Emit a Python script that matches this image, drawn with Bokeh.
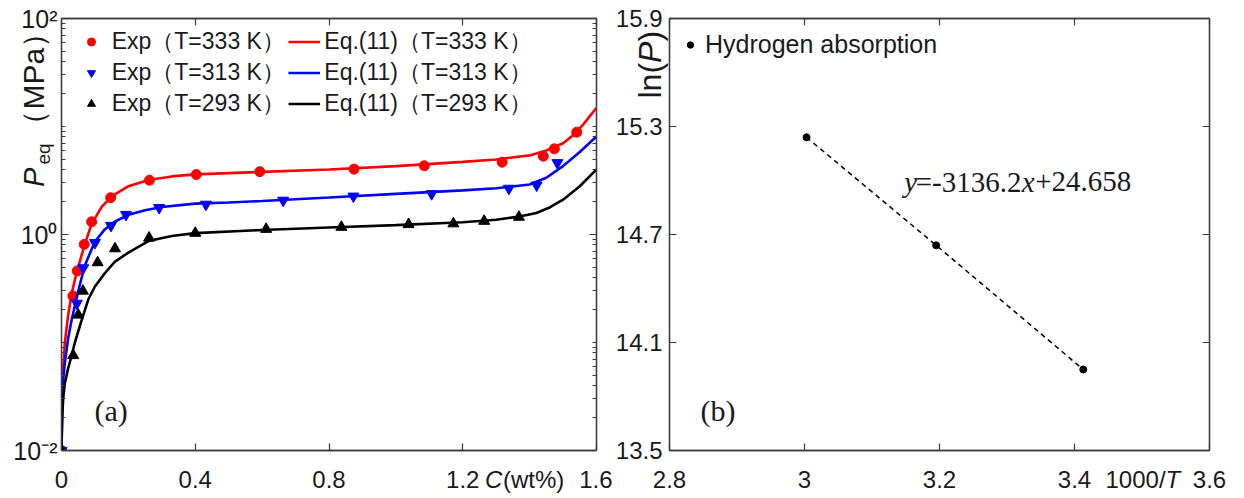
import math
from bokeh.plotting import figure
from bokeh.models import Range1d, LinearAxis, LogAxis, FixedTicker, Legend, LegendItem, Label
from bokeh.layouts import row
from bokeh.embed import file_html
from bokeh.resources import INLINE
from bokeh.core.properties import value

# ---------------- data: panel (a) ----------------
exp333_c = [0.000, 0.034, 0.047, 0.068, 0.090, 0.147, 0.263, 0.403, 0.593, 0.875, 1.085, 1.318, 1.441, 1.474, 1.541]
exp333_p = [0.010, 0.27, 0.46, 0.81, 1.31, 2.19, 3.18, 3.59, 3.82, 4.03, 4.33, 4.67, 5.31, 6.21, 8.85]

exp313_c = [0.000, 0.046, 0.065, 0.100, 0.148, 0.193, 0.292, 0.432, 0.663, 0.873, 1.107, 1.338, 1.421, 1.483]
exp313_p = [0.010, 0.23, 0.49, 0.84, 1.21, 1.53, 1.77, 1.90, 2.07, 2.26, 2.38, 2.67, 2.86, 4.61]

exp293_c = [0.000, 0.035, 0.050, 0.064, 0.108, 0.160, 0.262, 0.400, 0.612, 0.837, 1.038, 1.172, 1.264, 1.368]
exp293_p = [0.010, 0.076, 0.18, 0.30, 0.55, 0.74, 0.93, 1.03, 1.12, 1.17, 1.24, 1.26, 1.33, 1.45]

fit333_c = [0, 0.002, 0.005, 0.01, 0.02, 0.03, 0.04, 0.05, 0.07, 0.09, 0.12, 0.15, 0.2, 0.26, 0.33,
            0.4, 0.5, 0.6, 0.8, 1.0, 1.2, 1.3, 1.4, 1.45, 1.5, 1.53, 1.56, 1.6]
fit333_p = [0.01, 0.03, 0.06, 0.10, 0.18, 0.28, 0.38, 0.50, 0.82, 1.25, 1.8, 2.25, 2.8, 3.2, 3.45,
            3.6, 3.7, 3.8, 4.0, 4.3, 4.7, 4.95, 5.4, 6.0, 7.0, 8.3, 10.4, 14.9]

fit313_c = [0, 0.002, 0.005, 0.01, 0.02, 0.03, 0.04, 0.05, 0.07, 0.1, 0.13, 0.16, 0.2, 0.25, 0.3,
            0.4, 0.5, 0.6, 0.8, 1.0, 1.2, 1.3, 1.4, 1.45, 1.5, 1.55, 1.6]
fit313_p = [0.01, 0.025, 0.045, 0.065, 0.11, 0.16, 0.22, 0.30, 0.52, 0.86, 1.12, 1.32, 1.52, 1.68, 1.8,
            1.93, 1.98, 2.04, 2.2, 2.38, 2.56, 2.68, 2.9, 3.35, 4.3, 5.8, 8.1]

fit293_c = [0, 0.002, 0.005, 0.01, 0.02, 0.03, 0.04, 0.06, 0.08, 0.1, 0.13, 0.16, 0.2, 0.26, 0.33,
            0.4, 0.6, 0.8, 1.0, 1.2, 1.3, 1.37, 1.42, 1.46, 1.5, 1.55, 1.6]
fit293_p = [0.01, 0.02, 0.03, 0.042, 0.058, 0.075, 0.1, 0.16, 0.25, 0.33, 0.44, 0.56, 0.68, 0.87, 0.97,
            1.03, 1.1, 1.16, 1.22, 1.3, 1.37, 1.47, 1.58, 1.78, 2.1, 2.8, 4.0]

c_ticks = [0, 0.4, 0.8, 1.2, 1.6]
c_tick_labels = ["0", "0.4", "0.8", "1.2", "1.6"]
p_ticks = [0.01, 1, 100]
p_tick_labels = ["10\u207b\u00b2", "10\u2070", "10\u00b2"]
p_minor = [k * 10.0 ** d for d in (-2, -1, 0, 1) for k in range(2, 10)] + [0.1, 10]

legend_exp = ["Exp\uff08T=333 K\uff09", "Exp\uff08T=313 K\uff09", "Exp\uff08T=293 K\uff09"]
legend_fit = ["Eq.(11)\uff08T=333 K\uff09", "Eq.(11)\uff08T=313 K\uff09", "Eq.(11)\uff08T=293 K\uff09"]

# ---------------- data: panel (b) ----------------
inv_T = [3.003, 3.195, 3.413]
ln_P = [15.24, 14.64, 13.95]
t_ticks = [2.8, 3.0, 3.2, 3.4, 3.6]
t_tick_labels = ["2.8", "3", "3.2", "3.4", "3.6"]
l_ticks = [13.5, 14.1, 14.7, 15.3, 15.9]
l_tick_labels = ["13.5", "14.1", "14.7", "15.3", "15.9"]

# ---------------- layout / style ----------------
FW1, FW2, FH = 535, 540, 432
BL1, BR1, BL2, BR2, BT, BB = 61, 16, 54, 29, 18, 46
X0A, X0B, Y0 = 1 + BL1, 1 + BL1 + FW1 + BR1 + BL2, 1 + BT   # page position of the frames

AX = "#3c3c3c"
TXT = "#1a1a1a"
SANS = "Liberation Sans"
SERIF = "Liberation Serif"
RED, BLUE, BLACK = "#ff0000", "#0000ff", "#000000"


# page pixel -> data helpers (used only to place annotation texts)
def a_x(px):
    return (px - X0A) / FW1 * 1.6


def a_y(py):
    return 10 ** (2 - (py - Y0) / FH * 4)


def b_x(px):
    return 2.8 + (px - X0B) / FW2 * 0.8


def b_y(py):
    return 15.9 - (py - Y0) / FH * 2.4


def style_axis(ax, ticks, labels=None, fs="24px", standoff=6):
    ax.axis_line_color = AX
    ax.axis_line_width = 1.3
    ax.major_tick_line_color = AX
    ax.major_tick_line_width = 1.2
    ax.minor_tick_line_color = AX
    ax.major_tick_in = 7
    ax.major_tick_out = 0
    ax.minor_tick_in = 4
    ax.minor_tick_out = 0
    ax.major_label_text_font = SANS
    ax.major_label_text_color = TXT
    ax.major_label_text_font_size = fs
    if labels is None:
        ax.major_label_overrides = {t: "" for t in ticks}
        ax.major_label_standoff = 0
    else:
        ax.major_label_overrides = dict(zip(ticks, labels))
        ax.major_label_standoff = standoff


def lab(p, x, y, text, fs, font=SANS, style="normal", dx=0):
    # inside-frame annotation text, baseline at (x, y)
    p.add_layout(Label(x=x, y=y, text=text, x_offset=dx, y_offset=0.31 * fs,
                       text_font=font, text_font_size=f"{fs}px", text_font_style=style,
                       text_color=TXT, text_align="left", text_baseline="alphabetic"))


def outside_text(p, x, y, text, fs, style="normal", rotated=False, dx=0, dy=0):
    # text outside the frame: glyph drawn on the overlay level (not clipped)
    corr = 0.31 * fs
    if rotated:
        ox, oy, ang = dx - corr, -dy, math.pi / 2
    else:
        ox, oy, ang = dx, -corr, 0.0
    p.text(x=[x], y=[y], text=[text], x_offset=ox, y_offset=oy, angle=ang,
           text_font=value(SANS), text_font_size=value(f"{fs}px"), text_font_style=style,
           text_color=TXT, text_align="left", text_baseline="alphabetic", level="overlay")


def make_legend(items, loc, gw, standoff, fs="23px", gh=29):
    return Legend(items=items, location=loc, glyph_width=gw, glyph_height=gh, label_height=gh,
                  label_standoff=standoff, spacing=0, padding=6,
                  label_text_font=SANS, label_text_font_size=fs, label_text_color=TXT,
                  border_line_color=None, background_fill_alpha=0)


# ================= panel (a) =================
p1 = figure(title=None, frame_width=FW1, frame_height=FH, x_range=Range1d(0, 1.6),
            y_range=Range1d(0.01, 100), y_axis_type="log", output_backend="svg",
            toolbar_location=None, min_border_left=BL1, min_border_right=BR1,
            min_border_top=BT, min_border_bottom=BB,
            background_fill_color="white", border_fill_color="white")
p1.xgrid.visible = False
p1.ygrid.visible = False
p1.outline_line_color = AX
p1.outline_line_width = 1.3

xt1 = FixedTicker(ticks=c_ticks)
yt1 = FixedTicker(ticks=p_ticks, minor_ticks=p_minor)
xa = p1.xaxis[0]
xa.ticker = xt1
style_axis(xa, c_ticks, c_tick_labels, fs="24px", standoff=20)
ya = p1.yaxis[0]
ya.ticker = yt1
style_axis(ya, p_ticks, p_tick_labels, fs="25px", standoff=4)
top1 = LinearAxis(ticker=xt1)
style_axis(top1, c_ticks)
p1.add_layout(top1, "above")
right1 = LogAxis(ticker=yt1)
style_axis(right1, p_ticks)
p1.add_layout(right1, "right")

series = [
    (exp333_c, exp333_p, fit333_c, fit333_p, RED, "circle", 10),
    (exp313_c, exp313_p, fit313_c, fit313_p, BLUE, "inverted_triangle", 11),
    (exp293_c, exp293_p, fit293_c, fit293_p, BLACK, "triangle", 11),
]
exp_items, fit_items = [], []
for (ec, ep, fc, fp, col, mk, sz), le, lf in zip(series, legend_exp, legend_fit):
    rm = p1.scatter(ec, ep, marker=mk, size=sz, fill_color=col, line_color=col)
    rl = p1.line(fc, fp, line_color=col, line_width=2.6)
    exp_items.append(LegendItem(label=le, renderers=[rm]))
    fit_items.append(LegendItem(label=lf, renderers=[rl]))

lab(p1, a_x(95), a_y(420), "(a)", 30, font=SERIF)
outside_text(p1, a_x(43), a_y(187.5), "P", 29, style="italic", rotated=True)
outside_text(p1, a_x(50), a_y(165), "eq", 19, rotated=True)
outside_text(p1, a_x(43), a_y(140), "\uff08MPa\uff09", 30, rotated=True)
outside_text(p1, a_x(485.5), a_y(487.3), "C", 24, style="italic")
outside_text(p1, a_x(485.5), a_y(487.3), "(wt%)", 24, dx=18)

p1.add_layout(make_legend(exp_items, (19.7, 331.5), 20, 11))
p1.add_layout(make_legend(fit_items, (227.3, 331.5), 32, 4))

# ================= panel (b) =================
p2 = figure(title=None, frame_width=FW2, frame_height=FH, x_range=Range1d(2.8, 3.6),
            y_range=Range1d(13.5, 15.9), output_backend="svg", toolbar_location=None,
            min_border_left=BL2, min_border_right=BR2, min_border_top=BT, min_border_bottom=BB,
            background_fill_color="white", border_fill_color="white")
p2.xgrid.visible = False
p2.ygrid.visible = False
p2.outline_line_color = AX
p2.outline_line_width = 1.3

xt2 = FixedTicker(ticks=t_ticks)
yt2 = FixedTicker(ticks=l_ticks)
xb = p2.xaxis[0]
xb.ticker = xt2
style_axis(xb, t_ticks, t_tick_labels, fs="24px", standoff=20)
yb = p2.yaxis[0]
yb.ticker = yt2
style_axis(yb, l_ticks, l_tick_labels, fs="24px", standoff=7)
top2 = LinearAxis(ticker=xt2)
style_axis(top2, t_ticks)
p2.add_layout(top2, "above")
right2 = LinearAxis(ticker=yt2)
style_axis(right2, l_ticks)
p2.add_layout(right2, "right")

p2.line(inv_T, ln_P, line_color=BLACK, line_width=1.5, line_dash="5 4")
rb = p2.scatter(inv_T, ln_P, marker="circle", size=7, fill_color=BLACK, line_color=BLACK)

lab(p2, b_x(698), b_y(420), "(b)", 30, font=SERIF)
EQX, EQY = b_x(901.7), b_y(191)
lab(p2, EQX, EQY, "y", 29, font=SERIF, style="italic")
lab(p2, EQX, EQY, "=-3136.2", 29, font=SERIF, dx=11.5)
lab(p2, EQX, EQY, "x", 29, font=SERIF, style="italic", dx=117.5)
lab(p2, EQX, EQY, "+24.658", 29, font=SERIF, dx=131)

LNX, LNY = b_x(657), b_y(99)
outside_text(p2, LNX, LNY, "ln(", 32, rotated=True)
outside_text(p2, LNX, LNY, "P", 32, style="italic", rotated=True, dy=35.6)
outside_text(p2, LNX, LNY, ")", 32, rotated=True, dy=56.9)
outside_text(p2, b_x(1103), b_y(487.3), "1000/", 24)
outside_text(p2, b_x(1103), b_y(487.3), "T", 24, style="italic", dx=60)

p2.add_layout(make_legend([LegendItem(label="Hydrogen absorption", renderers=[rb])],
                          (13, 391), 16, 7, fs="25px"))

layout = row(p1, p2)
open("out.html", "w").write(file_html(layout, INLINE))
